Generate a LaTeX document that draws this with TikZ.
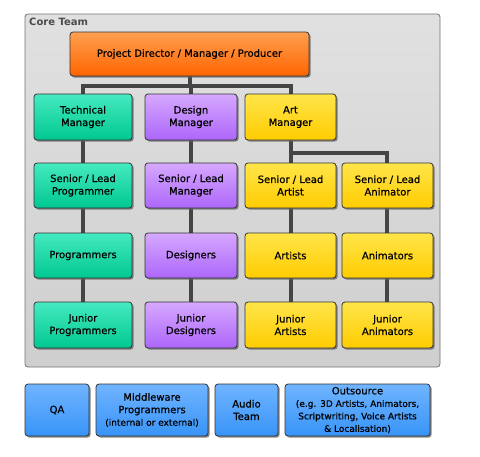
\documentclass[tikz,border=0pt]{standalone}
\usepackage{fontspec}
\setmainfont[FakeBold=0.6]{DejaVu Sans}
\newfontfamily\corefont{DejaVu Sans Bold}
\usetikzlibrary{shadows}
\definecolor{tealT}{HTML}{45EAC0}
\definecolor{tealB}{HTML}{00C890}
\definecolor{purT}{HTML}{D6A8FF}
\definecolor{purB}{HTML}{AD66FA}
\definecolor{yelT}{HTML}{FFE54A}
\definecolor{yelB}{HTML}{FFCC00}
\definecolor{bluT}{HTML}{70B4FF}
\definecolor{bluB}{HTML}{3894F8}
\definecolor{orT}{HTML}{FFA050}
\definecolor{orB}{HTML}{FF6400}
\definecolor{lineC}{HTML}{454545}
\tikzset{
  box/.style={draw=black!80, line width=0.8pt, rounded corners=3pt,
    drop shadow={shadow xshift=1.6pt, shadow yshift=-1.6pt, fill=black!60, opacity=0.8}},
  lbl/.style={font=\fontsize{10}{12.5}\selectfont, align=center, text=black},
  teal/.style={box, top color=tealT, bottom color=tealB},
  pur/.style={box, top color=purT, bottom color=purB},
  yel/.style={box, top color=yelT, bottom color=yelB},
  blu/.style={box, top color=bluT, bottom color=bluB},
  org/.style={box, top color=orT, bottom color=orB},
  conn/.style={draw=lineC, line width=3.2pt},
}
\newcommand{\bx}[7]{% name style x1 y1 x2 y2 text
  \path[#2] (#3,#4) rectangle (#5,#6);
  \node[lbl] (#1) at ({(#3+#5)/2},{(#4+#6)/2}) {#7};
}
\newcommand{\sm}[1]{{\fontsize{9}{10.5}\selectfont #1}}
\begin{document}
\begin{tikzpicture}[x=1pt,y=-1pt]
\useasboundingbox (0,0) rectangle (480,456);
% container
\path[draw=black!55, line width=0.8pt, rounded corners=3pt, top color=black!12, bottom color=black!19] (25,14) rectangle (440,367);
\node[anchor=west, font=\corefont\fontsize{10}{12}\selectfont, text=black!70, inner sep=0pt] (core) at (29,22) {Core Team};
% connectors (drawn first)
\draw[conn] (190,76) -- (190,86);
\draw[conn] (83,94) -- (83,86) -- (291,86) -- (291,94);
\draw[conn] (191,86) -- (191,94);
\draw[conn] (291,140) -- (291,153) -- (387,153) -- (387,163);
\draw[conn] (291,153) -- (291,163);
\foreach \x in {83,191,291,387}{
  \draw[conn] (\x,208) -- (\x,233);
  \draw[conn] (\x,278) -- (\x,302);
}
\draw[conn] (83,140) -- (83,163);
\draw[conn] (191,140) -- (191,163);
% boxes
\bx{pd}{org}{70}{32}{309}{76}{Project Director / Manager / Producer}
\bx{tm}{teal}{34}{94}{132}{140}{Technical\\Manager}
\bx{dm}{pur}{145}{94}{237}{140}{Design\\Manager}
\bx{am}{yel}{245}{94}{336}{140}{Art\\Manager}
\bx{slp}{teal}{34}{163}{132}{208}{Senior / Lead\\Programmer}
\bx{slm}{pur}{145}{163}{237}{208}{Senior / Lead\\Manager}
\bx{sla}{yel}{245}{163}{336}{208}{Senior / Lead\\Artist}
\bx{slan}{yel}{342}{163}{433}{208}{Senior / Lead\\Animator}
\bx{pr}{teal}{34}{233}{132}{278}{Programmers}
\bx{de}{pur}{145}{233}{237}{278}{Designers}
\bx{ar}{yel}{245}{233}{336}{278}{Artists}
\bx{an}{yel}{342}{233}{433}{278}{Animators}
\bx{jp}{teal}{34}{302}{132}{348}{Junior\\Programmers}
\bx{jd}{pur}{145}{302}{237}{348}{Junior\\Designers}
\bx{ja}{yel}{245}{302}{336}{348}{Junior\\Artists}
\bx{jan}{yel}{342}{302}{433}{348}{Junior\\Animators}
\bx{qa}{blu}{25}{384}{89}{436}{QA}
\bx{mw}{blu}{96}{384}{208}{436}{Middleware\\Programmers\\\sm{(internal or external)}}
\bx{au}{blu}{215}{384}{278}{436}{Audio\\Team}
\bx{os}{blu}{285}{384}{430}{436}{Outsource\\\sm{(e.g. 3D Artists, Animators,}\\\sm{Scriptwriting, Voice Artists}\\\sm{\& Localisation)}}
\end{tikzpicture}
\end{document}
